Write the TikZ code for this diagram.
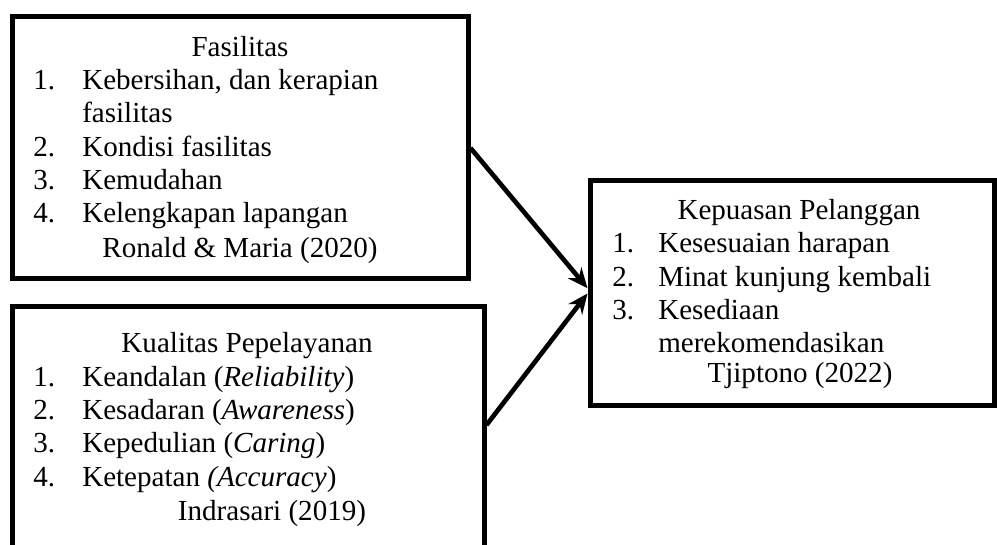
\documentclass[tikz,border=0pt]{standalone}
\usepackage{fontspec}
\setmainfont{Liberation Serif}
\usetikzlibrary{arrows.meta}
\begin{document}
\begin{tikzpicture}[x=.75pt, y=-.75pt, >={Stealth[length=15pt, width=13pt, inset=5pt]},
  kotak/.style={draw, line width=3.75pt, line join=miter, inner sep=0pt},
  teks/.style={inner sep=0pt, font=\fontsize{21.8}{26}\selectfont},
  kiri/.style={teks, anchor=base west},
  tengah/.style={teks, anchor=base}]
\useasboundingbox (0,0) rectangle (997,545);
% kotak-kotak
\node[kotak, minimum width={456*.75pt}, minimum height={262*.75pt}] (fas) at (240,148) {};
\node[kotak, minimum width={472*.75pt}, minimum height={246*.75pt}] (kua) at (248,430) {};
\node[kotak, minimum width={404*.75pt}, minimum height={225*.75pt}] (kep) at (792,293.5) {};
% Fasilitas
\node[tengah] (fjudul) at (240,57) {Fasilitas};
\foreach \y/\n/\t [count=\i] in {90/1./{Kebersihan, dan kerapian}, 157/2./{Kondisi fasilitas}, 190/3./Kemudahan, 223/4./{Kelengkapan lapangan}}
{
    \node[kiri] (fn\i) at (33,\y) {\n};
    \node[kiri] (ft\i) at (82,\y) {\t};
}
\node[kiri] (ft0) at (82,123) {fasilitas};
\node[tengah] (fsumber) at (240,258) {Ronald \& Maria (2020)};
% Kualitas Pelayanan
\node[tengah] (kjudul) at (247,353) {Kualitas Pepelayanan};
\foreach \y/\n/\t [count=\i] in {387/1./{Keandalan (\textit{Reliability})}, 420/2./{Kesadaran (\textit{Awareness})}, 453/3./{Kepedulian (\textit{Caring})}, 487/4./{Ketepatan \textit{(Accuracy})}}
{
    \node[kiri] (kn\i) at (33,\y) {\n};
    \node[kiri] (kt\i) at (82,\y) {\t};
}
\node[tengah] (ksumber) at (272,520) {Indrasari (2019)};
% Kepuasan Pelanggan
\node[tengah] (pjudul) at (799,220) {Kepuasan Pelanggan};
\foreach \y/\n/\t [count=\i] in {253/1./{Kesesuaian harapan}, 287/2./{Minat kunjung kembali}, 320/3./Kesediaan}
{
    \node[kiri] (pn\i) at (612,\y) {\n};
    \node[kiri] (pt\i) at (658,\y) {\t};
}
\node[kiri] (pt0) at (658,353) {merekomendasikan};
\node[tengah] (psumber) at (800,383) {Tjiptono (2022)};
% panah
\draw[->, line width=3.5pt] (fas.east) -- ([yshift=4pt]kep.west);
\draw[->, line width=3.5pt] ([yshift=3.75pt]kua.east) -- (kep.west);
\end{tikzpicture}
\end{document}
